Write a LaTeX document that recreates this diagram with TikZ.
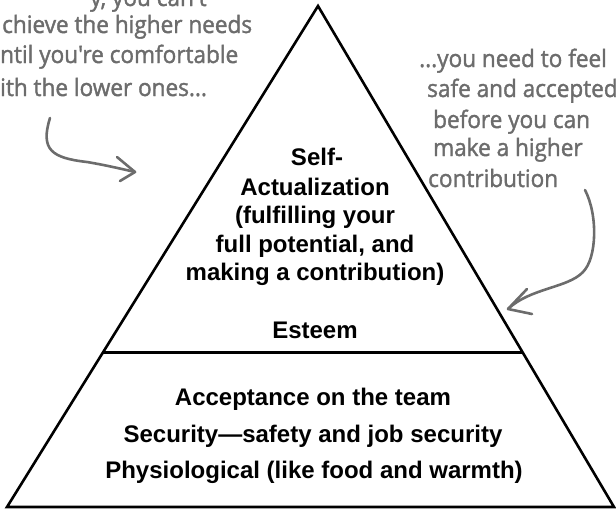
\documentclass[tikz,border=0pt]{standalone}
\usepackage{fontspec}
\setmainfont{Liberation Sans}
\newfontfamily\hand[FakeStretch=0.94,FakeBold=1.6]{Open Sans}
\usetikzlibrary{calc}
\definecolor{handgray}{RGB}{108,108,108}
\begin{document}
\begin{tikzpicture}[x=1pt,y=-1pt,
  lbl/.style={anchor=base, inner sep=0pt, font=\fontsize{24}{29}\selectfont\bfseries},
  note/.style={anchor=base west, inner sep=0pt, text=handgray, font=\fontsize{24}{28}\selectfont\hand},
  pen/.style={draw=handgray, line width=2.6pt, line cap=round, line join=round},
  edge/.style={draw=black, line width=2.6pt, line join=miter}]
\useasboundingbox (0,0) rectangle (616,509);
\begin{scope}
\clip (0,0) rectangle (616,509);
% pyramid
\coordinate (apex) at (318,6);
\coordinate (bl) at (7,507);
\coordinate (br) at (614,507);
\coordinate (dl) at ($(apex)!0.6926!(bl)$);
\coordinate (dr) at ($(apex)!0.6926!(br)$);
\draw[edge] (apex) -- (bl) -- (br) -- cycle;
\draw[edge, line width=3pt] (dl) -- (dr);
% upper block
\node[lbl] (t1) at (317,165) {Self-};
\node[lbl] (t2) at (315,195) {Actualization};
\node[lbl] (t3) at (315,223) {(fulfilling your};
\node[lbl] (t4) at (315,252) {full potential, and};
\node[lbl] (t5) at (315,280) {making a contribution)};
\node[lbl] (t6) at (315,338) {Esteem};
% lower block
\node[lbl] (b1) at (313,405) {Acceptance on the team};
\node[lbl] (b2) at (313,442) {Security---safety and job security};
\node[lbl] (b3) at (314,478) {Physiological (like food and warmth)};
% left note
\node[note] (l1) at (90,6) {y, you can't};
\node[note] (l2) at (2,33) {chieve the higher needs};
\node[note] (l3) at (0,63) {ntil you're comfortable};
\node[note] (l4) at (0,96) {ith the lower ones...};
% right note
\node[note] (r1) at (419,67) {...you need to feel};
\node[note] (r2) at (427,97) {safe and accepted};
\node[note] (r3) at (433,128) {before you can};
\node[note] (r4) at (433,156) {make a higher};
\node[note] (r5) at (428,187) {contribution};
% left arrow
\coordinate (la0) at (50,118);
\coordinate (la1) at (135,172);
\coordinate (lw1) at (117,157);
\coordinate (lw2) at (120,181);
\draw[pen] (la0) .. controls (40,150) and (52,158) .. (87,162) .. controls (105,165) and (122,169) .. (la1);
\draw[pen] (lw1) -- (la1) -- (lw2);
% right arrow
\coordinate (ra0) at (585,190);
\coordinate (ra1) at (508,309);
\coordinate (rw1) at (527,289);
\coordinate (rw2) at (532,314);
\draw[pen] (ra0) .. controls (598,215) and (597,258) .. (583,272) .. controls (568,288) and (530,288) .. (ra1);
\draw[pen] (rw1) -- (ra1) -- (rw2);
\end{scope}
\end{tikzpicture}
\end{document}
